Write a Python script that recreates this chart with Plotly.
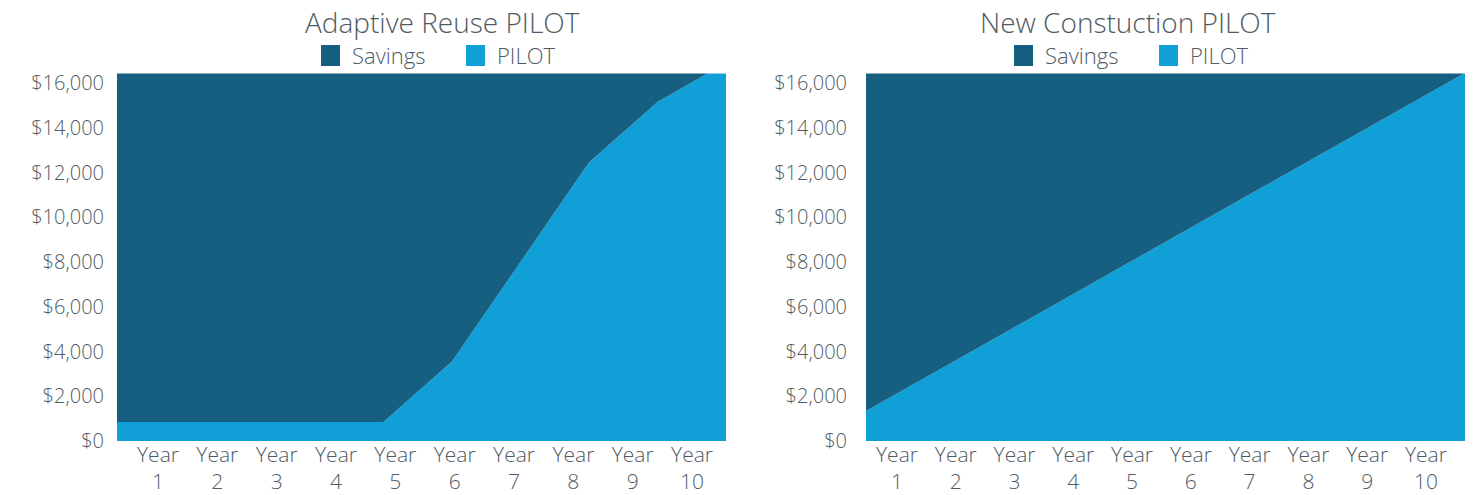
import numpy as np
import plotly.graph_objects as go

years = [1, 2, 3, 4, 5, 6, 7, 8, 9, 10]
year_labels = ["Year<br>%d" % y for y in years]
y_ticks = [0, 2000, 4000, 6000, 8000, 10000, 12000, 14000, 16000]
y_tick_labels = ["$" + format(v, ",d") for v in y_ticks]
series_names = ["Savings", "PILOT"]

# Adaptive Reuse PILOT
reuse_pilot = [850, 850, 850, 850, 850, 3550, 8000, 12450, 15150, 16900]
reuse_savings = [16150, 16150, 16150, 16150, 16150, 13450, 9000, 4550, 1850, 100]

# New Construction PILOT
new_pilot = [1150, 2850, 4550, 6250, 7950, 9650, 11350, 13050, 14750, 16450]
new_savings = [15850, 14150, 12450, 10750, 9050, 7350, 5650, 3950, 2250, 550]

DARK = "#175f80"
LIGHT = "#109fd7"
TEXT = "#4f5b63"
FONT = "Open Sans"

W, H = 1476, 495


def px(x):
    return x / W


def py(y):
    return 1 - y / H


fig = go.Figure()


def add_chart(xa, ya, pilot, savings):
    fig.add_trace(go.Scatter(x=years, y=pilot, stackgroup=xa, mode="none",
                             fillcolor=LIGHT, name=series_names[1], showlegend=False,
                             xaxis=xa, yaxis=ya))
    fig.add_trace(go.Scatter(x=years, y=savings, stackgroup=xa, mode="none",
                             fillcolor=DARK, name=series_names[0], showlegend=False,
                             xaxis=xa, yaxis=ya))


add_chart("x", "y", reuse_pilot, reuse_savings)
add_chart("x2", "y2", new_pilot, new_savings)

yfont = dict(family=FONT, size=20, color=TEXT, weight=300)
xfont = dict(family=FONT, size=21, color=TEXT, weight=300)
yaxis_common = dict(range=[0, 16425], tickmode="array", tickvals=y_ticks,
                    ticktext=y_tick_labels, showgrid=False, zeroline=False,
                    showline=False, ticks="", tickfont=yfont)
xaxis_common = dict(range=[1.11, 10], showgrid=False, zeroline=False, showline=False,
                    ticks="", tickfont=xfont, ticklabelstandoff=-1)

shapes = []
annotations = []
# legend: (box left x for Savings, box left x for PILOT)
for sav_x, pil_x in [(321, 466), (1014, 1159)]:
    for bx, col, nm in [(sav_x, DARK, series_names[0]), (pil_x, LIGHT, series_names[1])]:
        shapes.append(dict(type="rect", xref="paper", yref="paper",
                           x0=px(bx), x1=px(bx + 19), y0=py(66), y1=py(45),
                           fillcolor=col, line=dict(width=0)))
        annotations.append(dict(text=nm, x=px(bx + 29), y=py(55), xref="paper", yref="paper",
                                showarrow=False, xanchor="left", yanchor="middle",
                                font=dict(family=FONT, size=22, color=TEXT, weight=300)))

for title, cx in [("Adaptive Reuse PILOT", 442), ("New Constuction PILOT", 1128)]:
    annotations.append(dict(text=title, x=px(cx), y=py(22), xref="paper", yref="paper",
                            showarrow=False, xanchor="center", yanchor="middle",
                            font=dict(family=FONT, size=28, color=TEXT, weight=300)))

fig.update_layout(
    width=W, height=H,
    margin=dict(l=0, r=0, t=0, b=0, autoexpand=False),
    paper_bgcolor="white", plot_bgcolor="white",
    font=dict(family=FONT, color=TEXT),
    showlegend=False,
    xaxis=dict(domain=[px(117), px(726)], anchor="y",
               tickvals=list(np.linspace(1.708, 9.504, 10)), ticktext=year_labels,
               **xaxis_common),
    yaxis=dict(domain=[py(441), py(73.5)], anchor="x", ticklabelstandoff=12, **yaxis_common),
    xaxis2=dict(domain=[px(866), px(1465)], anchor="y2",
                tickvals=list(np.linspace(1.57, 9.42, 10)), ticktext=year_labels,
                **xaxis_common),
    yaxis2=dict(domain=[py(441), py(73.5)], anchor="x2", ticklabelstandoff=18, **yaxis_common),
    shapes=shapes,
    annotations=annotations,
)

fig.write_html("out.html", config={"displayModeBar": False},
               post_script="document.body.style.margin='0';")
